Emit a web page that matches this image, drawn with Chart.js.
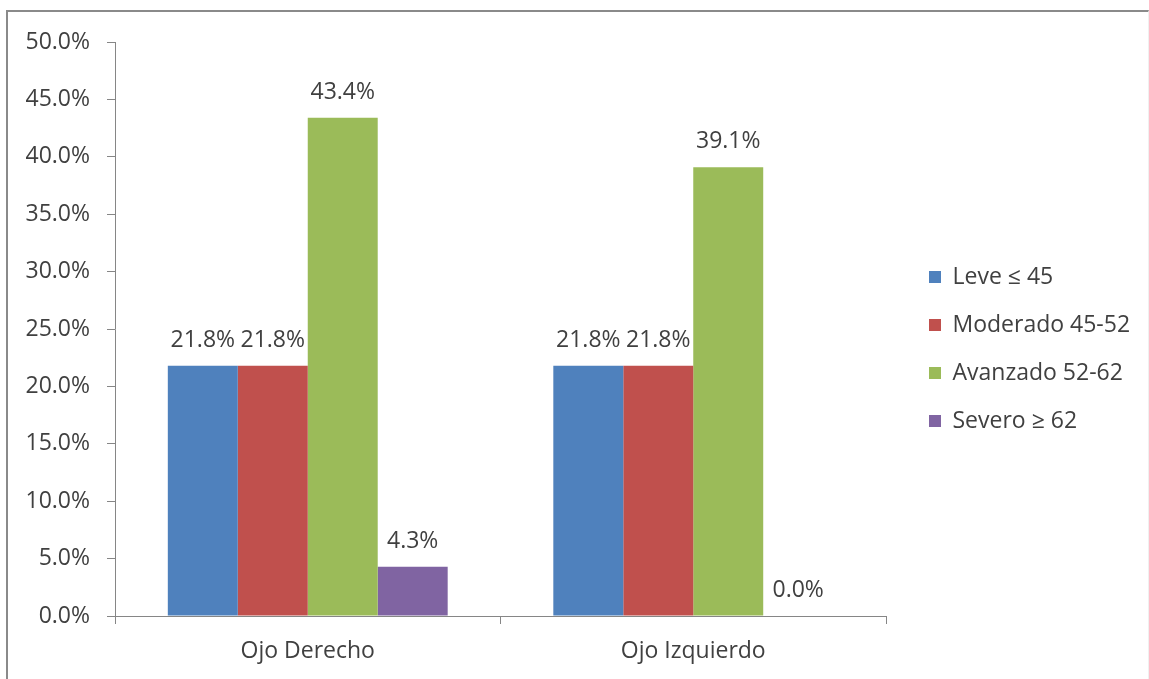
<!doctype html>

<html lang="es">
<head>
  <meta charset="utf-8">
  <title>Grado por ojo</title>
  <script src="https://cdn.jsdelivr.net/npm/chart.js@4.4.1/dist/chart.umd.min.js"></script>
  <style>
    body { margin: 0; background: #fff; overflow: hidden; }
    #marco { position: absolute; left: 6px; top: 10px; width: 1140px; height: 700px;
             border-left: 2px solid #8a8a8a; border-top: 2px solid #8a8a8a; border-right: 1px solid #f0f0f0; }
    .grafico { position: absolute; left: 0; top: 0; width: 1149px; height: 679px; }
  </style>
</head>

<body>
<div id="marco"></div>
<div class="grafico">
  <canvas id="myChart"></canvas>
</div>

<script>
var ojos = ['Ojo Derecho', 'Ojo Izquierdo'];
var grados = ['Leve ≤ 45', 'Moderado 45-52', 'Avanzado 52-62', 'Severo ≥ 62'];
var leve = [21.8, 21.8];
var moderado = [21.8, 21.8];
var avanzado = [43.4, 39.1];
var severo = [4.3, 0.0];
var ticksY = [0, 5, 10, 15, 20, 25, 30, 35, 40, 45, 50];

var colores = ['#4f81bd', '#c0504d', '#9bbb59', '#8064a2'];
var gris = '#868686';
var texto = '#404040';
var fuente = { family: 'Open Sans', size: 23 };

// porcentaje encima de cada barra
var etiquetas = {
  id: 'etiquetas',
  afterDatasetsDraw: function(chart) {
    var ctx = chart.ctx;
    ctx.save();
    ctx.font = '23px "Open Sans"';
    ctx.fillStyle = texto;
    ctx.textAlign = 'center';
    ctx.textBaseline = 'alphabetic';
    chart.data.datasets.forEach(function(ds, i) {
      chart.getDatasetMeta(i).data.forEach(function(bar, j) {
        ctx.fillText(ds.data[j].toFixed(1) + '%', bar.x, bar.y - 19);
      });
    });
    ctx.restore();
  }
};

var relleno = { top: 19, right: 0, bottom: 0, left: 0 };

var ctx = document.getElementById('myChart').getContext('2d');
var myChart = new Chart(ctx, {
  type: 'bar',
  data: {
    labels: ojos,
    datasets: [leve, moderado, avanzado, severo].map(function(serie, i) {
      return {
        label: grados[i],
        data: serie,
        backgroundColor: colores[i],
        borderWidth: 0,
        categoryPercentage: 0.726,
        barPercentage: 1
      };
    })
  },
  options: {
    responsive: true,
    maintainAspectRatio: false,
    animation: false,
    layout: { padding: relleno },
    scales: {
      x: {
        grid: { display: true, drawOnChartArea: false, offset: true, tickLength: 8, color: gris },
        border: { color: gris },
        ticks: { font: fuente, color: texto, padding: 14 },
        afterFit: function(s) { s.height = 63; }
      },
      arriba: {
        type: 'linear', position: 'top',
        grid: { display: false }, border: { display: false }, ticks: { display: false },
        afterFit: function(s) { s.height = 23; }
      },
      y: {
        min: 0, max: 50,
        grid: { drawOnChartArea: false, tickLength: 8, color: gris },
        border: { color: gris },
        afterBuildTicks: function(s) { s.ticks = ticksY.map(function(v) { return { value: v }; }); },
        ticks: {
          font: fuente, color: texto, padding: 17,
          callback: function(v) { return v.toFixed(1) + '%'; }
        },
        afterFit: function(s) { s.width = 115; }
      },
      derecha: {
        type: 'linear', position: 'right',
        grid: { display: false }, border: { display: false }, ticks: { display: false },
        afterFit: function(s) { s.width = 18; }
      }
    },
    plugins: {
      legend: {
        position: 'right',
        align: 'center',
        maxWidth: 245,
        labels: { boxWidth: 12, boxHeight: 12, padding: 25, color: texto, font: fuente }
      },
      tooltip: { enabled: false }
    }
  },
  plugins: [etiquetas]
});

// el area del grafico termina en x=886, la leyenda ocupa lo que queda
relleno.right = Math.max(0, 245 - myChart.legend.width);
myChart.update('none');
</script>

</body>
</html>
